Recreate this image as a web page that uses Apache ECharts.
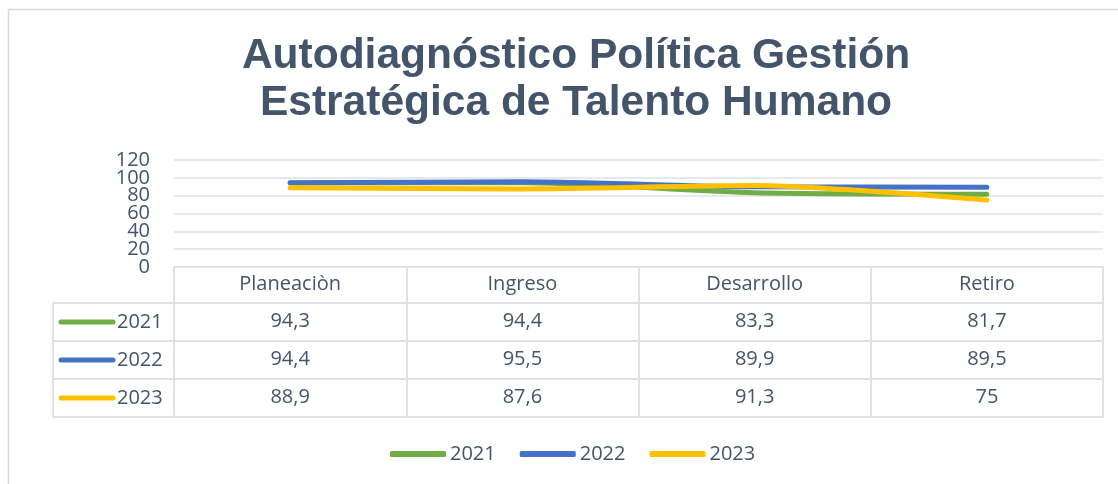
<!DOCTYPE html>
<html>
<head>
<meta charset="utf-8">
<script src="https://cdn.jsdelivr.net/npm/echarts@6/dist/echarts.min.js"></script>
<style>
  html, body { margin: 0; padding: 0; background: #fff; }
  #chart { width: 1118px; height: 484px; }
</style>
</head>
<body>
<div id="chart"></div>
<script>
const categories = ['Planeaciòn', 'Ingreso', 'Desarrollo', 'Retiro']
const seriesNames = ['2021', '2022', '2023']
const values2021 = [94.3, 94.4, 83.3, 81.7]
const values2022 = [94.4, 95.5, 89.9, 89.5]
const values2023 = [88.9, 87.6, 91.3, 75]
const yTickLabels = ['0', '20', '40', '60', '80', '100', '120']
const lineColors = ['#70AD47', '#4472C4', '#FFC000']

const textColor = '#44546A'
const borderColor = '#DEE2E8'
const font = 'Open Sans'

// layout of plot + data table
const gridLeft = 174
const gridRight = 1103
const axisY = 267
const headerH = 36
const rowH = 38
const keyLeft = 53

const allValues = [values2021, values2022, values2023]
const fmt = v => String(v).replace('.', ',')

const chart = echarts.init(document.getElementById('chart'))

// one category axis per table row, stacked below the plot with offset
const xAxes = [{
    type: 'category',
    data: categories,
    position: 'bottom',
    boundaryGap: true,
    axisLine: { show: true, lineStyle: { color: borderColor, width: 2 } },
    axisTick: { show: true, alignWithLabel: false, length: headerH, lineStyle: { color: borderColor, width: 2 } },
    axisLabel: { interval: 0, margin: 7, fontSize: 20, color: textColor, fontFamily: font }
}]
allValues.forEach((vals, i) => {
    xAxes.push({
        type: 'category',
        data: vals.map(fmt),
        position: 'bottom',
        offset: headerH + rowH * i,
        boundaryGap: true,
        axisLine: { show: true, lineStyle: { color: borderColor, width: 2 } },
        axisTick: { show: true, alignWithLabel: false, length: rowH, lineStyle: { color: borderColor, width: 2 } },
        axisLabel: { interval: 0, margin: 8, fontSize: 20, color: textColor, fontFamily: font }
    })
})
// bottom border of the table
xAxes.push({
    type: 'category',
    data: categories,
    position: 'bottom',
    offset: headerH + rowH * 3,
    axisLine: { show: true, lineStyle: { color: borderColor, width: 2 } },
    axisTick: { show: false },
    axisLabel: { show: false }
})

// legend-key column on the left of the table
const keyGraphics = [
    {
        type: 'line',
        shape: { x1: keyLeft, y1: axisY + headerH, x2: keyLeft, y2: axisY + headerH + rowH * 3 },
        style: { stroke: borderColor, lineWidth: 2 }
    }
]
seriesNames.forEach((name, i) => {
    const top = axisY + headerH + rowH * i
    const cy = top + rowH / 2
    keyGraphics.push({
        type: 'line',
        shape: { x1: keyLeft, y1: top, x2: gridLeft, y2: top },
        style: { stroke: borderColor, lineWidth: 2 }
    })
    keyGraphics.push({
        type: 'line',
        shape: { x1: 61, y1: cy, x2: 113, y2: cy },
        style: { stroke: lineColors[i], lineWidth: 5, lineCap: 'round' }
    })
    keyGraphics.push({
        type: 'text',
        x: 117,
        y: cy,
        style: { text: name, fill: textColor, fontSize: 20, fontFamily: font, verticalAlign: 'middle' }
    })
})
keyGraphics.push({
    type: 'line',
    shape: { x1: keyLeft, y1: axisY + headerH + rowH * 3, x2: gridLeft, y2: axisY + headerH + rowH * 3 },
    style: { stroke: borderColor, lineWidth: 2 }
})
// chart frame
keyGraphics.push({
    type: 'rect',
    shape: { x: 8.5, y: 9.5, width: 1200, height: 600 },
    style: { fill: 'none', stroke: '#D9D9D9', lineWidth: 1.5 },
    z: -1
})

chart.setOption({
    animation: false,
    title: {
        text: 'Autodiagnóstico Política Gestión\nEstratégica de Talento Humano',
        left: 571,
        textAlign: 'center',
        top: 28,
        textStyle: {
            fontFamily: 'Liberation Sans',
            fontWeight: 'bold',
            fontSize: 42.5,
            lineHeight: 47,
            color: textColor
        }
    },
    legend: {
        data: seriesNames,
        top: 439,
        left: 385,
        icon: 'roundRect',
        itemWidth: 56,
        itemHeight: 6,
        itemGap: 24,
        textStyle: { fontSize: 20, color: textColor, fontFamily: font, padding: [0, 0, 0, -1] }
    },
    grid: {
        left: gridLeft,
        right: 1118 - gridRight,
        top: 160,
        bottom: 484 - axisY
    },
    xAxis: xAxes,
    yAxis: [
        {
            type: 'value',
            min: 0,
            max: 120,
            interval: 20,
            axisLine: { show: false },
            axisTick: { show: false },
            axisLabel: { show: false },
            splitLine: { lineStyle: { color: '#DCE0E6', width: 1.5 } }
        },
        {
            // tick labels, all shown even though they touch
            type: 'category',
            data: yTickLabels,
            position: 'left',
            boundaryGap: false,
            axisLine: { show: false },
            axisTick: { show: false },
            splitLine: { show: false },
            axisLabel: { interval: 0, margin: 24, fontSize: 20, color: textColor, fontFamily: font }
        }
    ],
    series: seriesNames.map((name, i) => ({
        name,
        type: 'line',
        data: allValues[i],
        smooth: 0.25,
        showSymbol: false,
        symbol: 'none',
        lineStyle: { color: lineColors[i], width: 5, cap: 'round' },
        itemStyle: { color: lineColors[i] }
    })),
    graphic: keyGraphics
})
</script>
</body>
</html>
